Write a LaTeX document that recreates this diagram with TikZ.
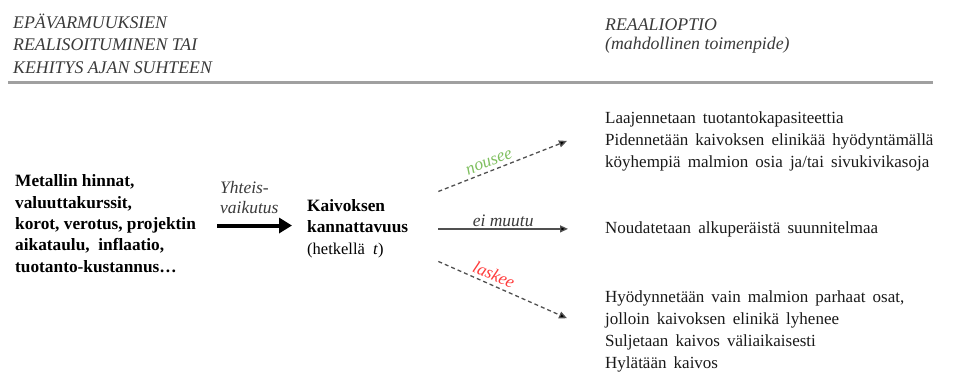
\documentclass[tikz,border=0pt]{standalone}
\usepackage{fontspec}
\setmainfont{Liberation Serif}
\usetikzlibrary{arrows.meta}
\definecolor{hdrgray}{HTML}{3A3A3A}
\definecolor{rulegray}{HTML}{A0A0A0}
\definecolor{nousgreen}{HTML}{7FBF5F}
\definecolor{laskred}{HTML}{FF3B3B}
\definecolor{dashgray}{HTML}{505050}
\newcommand\mywidespaces{\spaceskip=0.42em plus 0.1em\relax}
\tikzset{
  hdr/.style={font=\fontsize{17.8bp}{22.5bp}\selectfont\itshape, text=hdrgray, align=left, inner sep=0pt, anchor=base west},
  body/.style={font=\fontsize{17bp}{21.8bp}\selectfont\mywidespaces, text=black!90, align=left, inner sep=0pt, anchor=base west},
  boldbody/.style={font=\fontsize{17.3bp}{21.3bp}\selectfont\bfseries, align=left, inner sep=0pt, anchor=base west},
  lbl/.style={font=\fontsize{17.5bp}{20bp}\selectfont\itshape, inner sep=3.5bp},
  bigarrow/.style={line width=4bp, -{Triangle[length=13bp,width=15bp]}},
  dasharrow/.style={dashgray, line width=1.3bp, dash pattern=on 4bp off 3bp, -{Triangle[length=8bp,width=7bp,fill=black]}},
  solidarrow/.style={dashgray, line width=1.3bp, -{Triangle[length=8bp,width=7bp,fill=black]}},
}
\begin{document}
\begin{tikzpicture}[x=1bp,y=-1bp]
\path[use as bounding box] (0,0) rectangle (955,373);
% headers
\node[hdr] (hl) at (13,73) {EPÄVARMUUKSIEN\\REALISOITUMINEN TAI\\KEHITYS AJAN SUHTEEN};
\node[hdr, font=\fontsize{17.8bp}{19bp}\selectfont\itshape] (hr) at (605,49) {REAALIOPTIO\\(mahdollinen toimenpide)};
\coordinate (ruleL) at (8,82);
\coordinate (ruleR) at (933,82);
\draw[rulegray, line width=3bp] (ruleL) -- (ruleR);
% left block
\node[boldbody] (f) at (15,272) {Metallin hinnat,\\valuuttakurssit,\\korot, verotus, projektin\\aikataulu, \ inflaatio,\\tuotanto-kustannus\dots};
\node[lbl, text=hdrgray, align=left, inner sep=0pt, anchor=base west, font=\fontsize{17.5bp}{20bp}\selectfont\itshape] (yv) at (220,213) {Yhteis-\\vaikutus};
\node[boldbody] (k) at (307,254) {Kaivoksen\\kannattavuus\\{\mdseries\fontsize{16.5bp}{20.5bp}\selectfont(hetkellä \ \textit{t})}};
% right blocks
\node[body, font=\fontsize{17bp}{22bp}\selectfont\mywidespaces] (r1) at (605,167) {Laajennetaan tuotantokapasiteettia\\Pidennetään kaivoksen elinikää hyödyntämällä\\köyhempiä malmion osia ja/tai sivukivikasoja};
\node[body] (r2) at (605,233) {Noudatetaan alkuperäistä suunnitelmaa};
\node[body] (r3) at (605,368) {Hyödynnetään vain malmion parhaat osat,\\jolloin kaivoksen elinikä lyhenee\\Suljetaan kaivos väliaikaisesti\\Hylätään kaivos};
% arrows
\draw[bigarrow] ([xshift=21bp,yshift=-2bp]f.east) -- ([xshift=-15bp,yshift=-2bp]f.east -| k.west);
\draw[dasharrow] ([xshift=30bp,yshift=37bp]k.east) -- node[lbl, pos=0.42, above, sloped, text=nousgreen] {nousee} ([xshift=-38bp]r1.west);
\draw[solidarrow] ([xshift=30bp]k.east |- r2.west) -- node[lbl, pos=0.5, above, text=hdrgray, inner sep=2bp] {ei muutu} ([xshift=-37bp]r2.west);
\draw[dasharrow] ([xshift=30bp,yshift=-33bp]k.east) -- node[lbl, pos=0.4, above, sloped, text=laskred] {laskee} ([xshift=-38bp,yshift=13bp]r3.west);
\end{tikzpicture}
\end{document}
